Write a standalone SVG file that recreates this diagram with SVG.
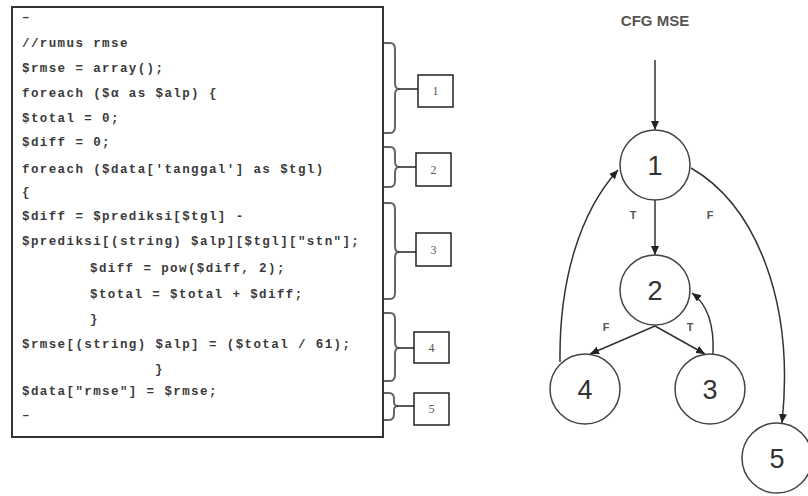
<svg xmlns="http://www.w3.org/2000/svg" width="808" height="496" viewBox="0 0 808 496">
<defs>
<style>
.code{font-family:"Liberation Mono","Courier New",monospace;font-size:12.5px;font-weight:bold;letter-spacing:1.4px;fill:#3a3a3a}
.brace{fill:none;stroke:#666;stroke-width:2}
.lead{stroke:#222;stroke-width:1.5}
.box{fill:#fff;stroke:#222;stroke-width:1.5}
.boxlbl{font-family:"Liberation Serif","Times New Roman",serif;font-size:12px;fill:#555;text-anchor:middle}
.node{fill:#fff;stroke:#444;stroke-width:1.5}
.nlbl{font-family:"Liberation Sans",Arial,sans-serif;font-size:27px;fill:#333;text-anchor:middle}
.edge{fill:none;stroke:#333;stroke-width:1.5;marker-end:url(#ah)}
.elbl{font-family:"Liberation Sans",Arial,sans-serif;font-size:11px;font-weight:bold;fill:#555;text-anchor:middle}
</style>
<marker id="ah" markerUnits="userSpaceOnUse" markerWidth="11" markerHeight="9" refX="9" refY="4" orient="auto">
<path d="M0,0 L9,4 L0,8 z" fill="#222"/>
</marker>
</defs>
<rect width="808" height="496" fill="#fff"/>

<g id="code">
<rect x="12" y="7" width="371" height="430" fill="#fff" stroke="#333" stroke-width="2"/>
<text class="code" x="22" y="21">–</text>
<text class="code" x="22" y="47">//rumus rmse</text>
<text class="code" x="22" y="72">$rmse = array();</text>
<text class="code" x="22" y="97">foreach ($α as $alp) {</text>
<text class="code" x="22" y="122">$total = 0;</text>
<text class="code" x="22" y="146">$diff = 0;</text>
<text class="code" x="22" y="173">foreach ($data['tanggal'] as $tgl)</text>
<text class="code" x="22" y="196">{</text>
<text class="code" x="22" y="220">$diff = $prediksi[$tgl] -</text>
<text class="code" x="22" y="245">$prediksi[(string) $alp][$tgl]["stn"];</text>
<text class="code" x="90" y="272">$diff = pow($diff, 2);</text>
<text class="code" x="90" y="298">$total = $total + $diff;</text>
<text class="code" x="90" y="323">}</text>
<text class="code" x="22" y="348">$rmse[(string) $alp] = ($total / 61);</text>
<text class="code" x="155" y="373">}</text>
<text class="code" x="22" y="395">$data["rmse"] = $rmse;</text>
<text class="code" x="22" y="419">–</text>
</g>

<g id="label1">
<path class="brace" d="M384,43 H390 Q395,43 395,49 V83 Q395,89 399,89 Q395,89 395,95 V127 Q395,133 390,133 H384"/>
<line class="lead" x1="398" y1="89" x2="418" y2="89"/>
<rect class="box" x="418" y="75" width="35" height="32"/>
<text class="boxlbl" x="435.5" y="95">1</text>
</g>
<g id="label2">
<path class="brace" d="M384,147 H390 Q395,147 395,153 V161 Q395,167 399,167 Q395,167 395,173 V181 Q395,187 390,187 H384"/>
<line class="lead" x1="398" y1="167" x2="416" y2="167"/>
<rect class="box" x="416" y="153" width="35" height="33"/>
<text class="boxlbl" x="433.5" y="174">2</text>
</g>
<g id="label3">
<path class="brace" d="M384,203 H390 Q395,203 395,209 V246 Q395,252 399,252 Q395,252 395,258 V293 Q395,299 390,299 H384"/>
<line class="lead" x1="398" y1="252" x2="416" y2="252"/>
<rect class="box" x="416" y="233" width="35" height="33"/>
<text class="boxlbl" x="433.5" y="254">3</text>
</g>
<g id="label4">
<path class="brace" d="M384,313 H390 Q395,313 395,319 V342 Q395,348 399,348 Q395,348 395,354 V375 Q395,381 390,381 H384"/>
<line class="lead" x1="398" y1="348" x2="414" y2="348"/>
<rect class="box" x="414" y="332" width="35" height="31"/>
<text class="boxlbl" x="431.5" y="352">4</text>
</g>
<g id="label5">
<path class="brace" d="M384,393 H389 Q394,393 394,399 V402 Q394,406 398,406 Q394,406 394,410 V414 Q394,420 389,420 H384"/>
<line class="lead" x1="397" y1="406" x2="414" y2="406"/>
<rect class="box" x="414" y="393" width="35" height="32"/>
<text class="boxlbl" x="431.5" y="413">5</text>
</g>

<text x="655" y="26" font-family="Liberation Sans, Arial, sans-serif" font-size="15" font-weight="bold" fill="#555" text-anchor="middle">CFG MSE</text>

<g id="connectors">
<line class="edge" x1="655" y1="60" x2="655" y2="130"/>
<line class="edge" x1="655" y1="200" x2="655" y2="255"/>
<line class="edge" x1="655" y1="326" x2="590" y2="354"/>
<line class="edge" x1="655" y1="326" x2="705" y2="354"/>
<path class="edge" d="M713,354 Q715,310 692,293"/>
<path class="edge" d="M560,362 C559,280 580,212 618,170"/>
<path class="edge" d="M691,168 C755,205 795,300 782,423"/>
<text class="elbl" x="633" y="219">T</text>
<text class="elbl" x="710" y="219">F</text>
<text class="elbl" x="606" y="331">F</text>
<text class="elbl" x="690" y="331">T</text>
</g>

<g id="n1"><circle class="node" cx="655" cy="165" r="35"/><text class="nlbl" x="655" y="175">1</text></g>
<g id="n2"><circle class="node" cx="655" cy="290" r="35"/><text class="nlbl" x="655" y="300">2</text></g>
<g id="n4"><circle class="node" cx="585" cy="389" r="35"/><text class="nlbl" x="585" y="399">4</text></g>
<g id="n3"><circle class="node" cx="710" cy="389" r="35"/><text class="nlbl" x="710" y="399">3</text></g>
<g id="n5"><circle class="node" cx="777" cy="458" r="35"/><text class="nlbl" x="777" y="468">5</text></g>
</svg>
